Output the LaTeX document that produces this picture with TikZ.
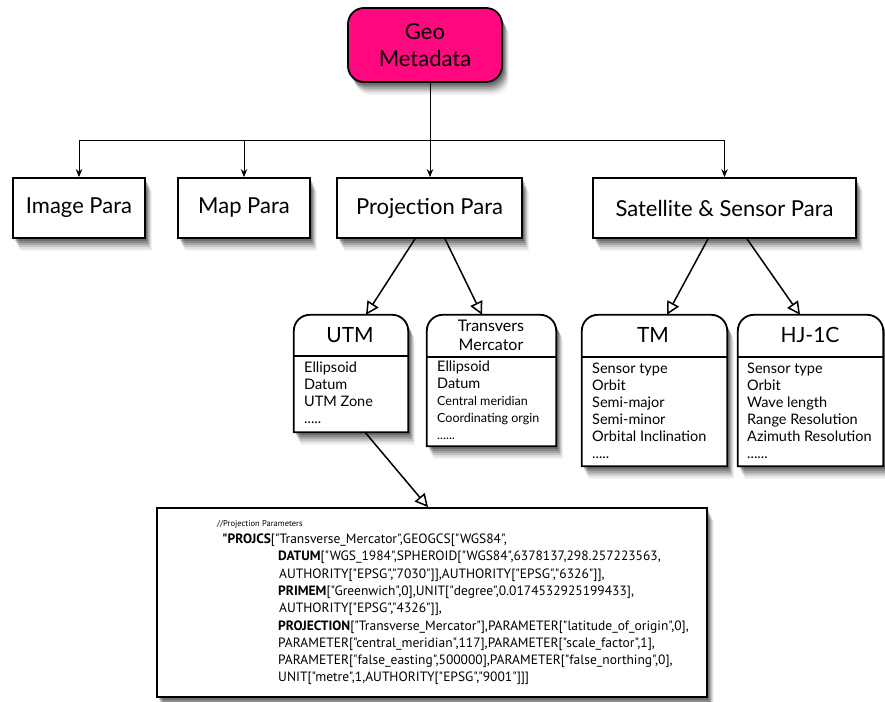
\documentclass[tikz,border=0pt]{standalone}
\usepackage{fontspec}
\setmainfont{Lato}
\newfontfamily\codefont{PT Sans}
\usetikzlibrary{arrows.meta}

\definecolor{geopink}{RGB}{255,8,128}

\tikzset{
  x=1pt, y=-1pt,
  softshadow/.style={
    preaction={fill=black, opacity=0.05, transform canvas={xshift=7pt, yshift=-13pt}},
    preaction={fill=black, opacity=0.08, transform canvas={xshift=6pt, yshift=-11pt}},
    preaction={fill=black, opacity=0.12, transform canvas={xshift=5pt, yshift=-9pt}},
    preaction={fill=black, opacity=0.15, transform canvas={xshift=4pt, yshift=-7pt}},
    preaction={fill=black, opacity=0.18, transform canvas={xshift=3pt, yshift=-5pt}},
    preaction={fill=black, opacity=0.20, transform canvas={xshift=2pt, yshift=-3pt}}},
  parabox/.style={draw=black, line width=1.8pt, fill=white, softshadow,
      font=\fontsize{22}{25}\selectfont, inner sep=0pt},
  card/.style={inner sep=0pt},
  cardline/.style={draw=black, line width=1.8pt, fill=white, softshadow},
  sepline/.style={draw=black, line width=1.2pt},
  treeline/.style={draw=black, line width=0.8pt},
  treearrow/.style={treeline, -{Stealth[length=8pt,width=6.5pt]}},
  hollow/.style={draw=black, line width=1.5pt,
      -{Triangle[open, length=13pt, width=13pt, line width=1.5pt]}},
  cardhead/.style={font=\fontsize{21}{24}\selectfont, align=center},
  cardbody/.style={anchor=north west, align=left, inner sep=0pt,
      font=\fontsize{14.5}{17}\selectfont},
}

\begin{document}
\begin{tikzpicture}
\useasboundingbox (0,0) rectangle (885,701);

% root node
\node[draw=black, line width=1.8pt, fill=geopink, rounded corners=16pt,
      softshadow, minimum width=154pt, minimum height=74pt, align=center,
      font=\fontsize{22}{27}\selectfont] (geo) at (425,45) {Geo\\Metadata};

% second level
\node[parabox, minimum width=132pt, minimum height=60pt] (img) at (79,208) {Image Para};
\node[parabox, minimum width=132pt, minimum height=60pt] (map) at (244,208) {Map Para};
\node[parabox, minimum width=185pt, minimum height=60pt] (proj) at (429.5,208) {Projection Para};
\node[parabox, minimum width=263pt, minimum height=60pt] (sat) at (724.5,208) {Satellite \& Sensor Para};

% tree connectors
\coordinate (bus) at (430,140);
\draw[treeline] (geo.south -| bus) -- (bus);
\draw[treearrow] (bus) -| (img.north);
\draw[treearrow] (bus) -| (map.north);
\draw[treearrow] (bus) -- (proj.north -| bus);
\draw[treearrow] (bus) -| (sat.north);

% cards with rounded top corners
% UTM
\node[card, minimum width=114pt, minimum height=117pt] (utm) at (351,373.5) {};
\path[cardline] (utm.south west) [rounded corners=16pt] -- (utm.north west)
  -- (utm.north east) [sharp corners] -- (utm.south east) -- cycle;
\draw[sepline] (utm.west |- 0,356) -- (utm.east |- 0,356);
\node[cardhead] (utmh) at (350,335) {UTM};
\node[cardbody] (utmb) at (304,362) {Ellipsoid\\Datum\\UTM Zone\\.....};

% Transverse Mercator
\node[card, minimum width=129pt, minimum height=131pt] (tmerc) at (491.5,380.5) {};
\path[cardline] (tmerc.south west) [rounded corners=16pt] -- (tmerc.north west)
  -- (tmerc.north east) [sharp corners] -- (tmerc.south east) -- cycle;
\draw[sepline] (tmerc.west |- 0,357) -- (tmerc.east |- 0,357);
\node[align=center, font=\fontsize{16}{19}\selectfont] (tmerch) at (491,335) {Transvers\\Mercator};
\node[cardbody] (tmercb) at (437,361) {Ellipsoid\\Datum\\
  {\fontsize{12.5}{17}\selectfont Central meridian}\\
  {\fontsize{12.5}{17}\selectfont Coordinating orgin}\\
  {\fontsize{12.5}{17}\selectfont ......}};

% TM
\node[card, minimum width=145pt, minimum height=151pt] (tm) at (654.5,390.5) {};
\path[cardline] (tm.south west) [rounded corners=16pt] -- (tm.north west)
  -- (tm.north east) [sharp corners] -- (tm.south east) -- cycle;
\draw[sepline] (tm.west |- 0,357) -- (tm.east |- 0,357);
\node[cardhead] (tmh) at (653,335) {TM};
\node[cardbody] (tmb) at (592,363) {Sensor type\\Orbit\\Semi-major\\Semi-minor\\Orbital Inclination\\.....};

% HJ-1C
\node[card, minimum width=145pt, minimum height=151pt] (hj) at (810.5,390.5) {};
\path[cardline] (hj.south west) [rounded corners=16pt] -- (hj.north west)
  -- (hj.north east) [sharp corners] -- (hj.south east) -- cycle;
\draw[sepline] (hj.west |- 0,357) -- (hj.east |- 0,357);
\node[cardhead] (hjh) at (810,335) {HJ-1C};
\node[cardbody] (hjb) at (747,363) {Sensor type\\Orbit\\Wave length\\Range Resolution\\Azimuth Resolution\\......};

% code box
\node[draw=black, line width=1.8pt, fill=white, softshadow,
      minimum width=550pt, minimum height=189pt, inner sep=0pt] (code) at (432,602.5) {};
\node[anchor=north west, align=left, inner sep=0pt, font=\codefont\fontsize{13.5}{17.3}\selectfont]
  (codetext) at (217,520) {%
  {\fontsize{8.5}{17.3}\selectfont //Projection Parameters}\\
  \hspace*{5pt}\textbf{"PROJCS}["Transverse\_Mercator",GEOGCS["WGS84",\\
  \hspace*{61pt}\textbf{DATUM}["WGS\_1984",SPHEROID["WGS84",6378137,298.257223563,\\
  \hspace*{62pt}AUTHORITY["EPSG","7030"]],AUTHORITY["EPSG","6326"]],\\
  \hspace*{61pt}\textbf{PRIMEM}["Greenwich",0],UNIT["degree",0.0174532925199433],\\
  \hspace*{62pt}AUTHORITY["EPSG","4326"]],\\
  \hspace*{61pt}\textbf{PROJECTION}["Transverse\_Mercator"],PARAMETER["latitude\_of\_origin",0],\\
  \hspace*{61pt}PARAMETER["central\_meridian",117],PARAMETER["scale\_factor",1],\\
  \hspace*{61pt}PARAMETER["false\_easting",500000],PARAMETER["false\_northing",0],\\
  \hspace*{61pt}UNIT["metre",1,AUTHORITY["EPSG","9001"]]]};

% inheritance arrows
\draw[hollow] ([xshift=-14.5pt]proj.south) -- ([xshift=15pt]utm.north);
\draw[hollow] ([xshift=15.5pt]proj.south) -- ([xshift=-9.5pt]tmerc.north);
\draw[hollow] ([xshift=-16.5pt]sat.south) -- ([xshift=12.5pt]tm.north);
\draw[hollow] ([xshift=22.5pt]sat.south) -- ([xshift=-10.5pt]hj.north);
\draw[hollow] ([xshift=14pt]utm.south) -- ([xshift=-4pt]code.north);
\end{tikzpicture}
\end{document}
